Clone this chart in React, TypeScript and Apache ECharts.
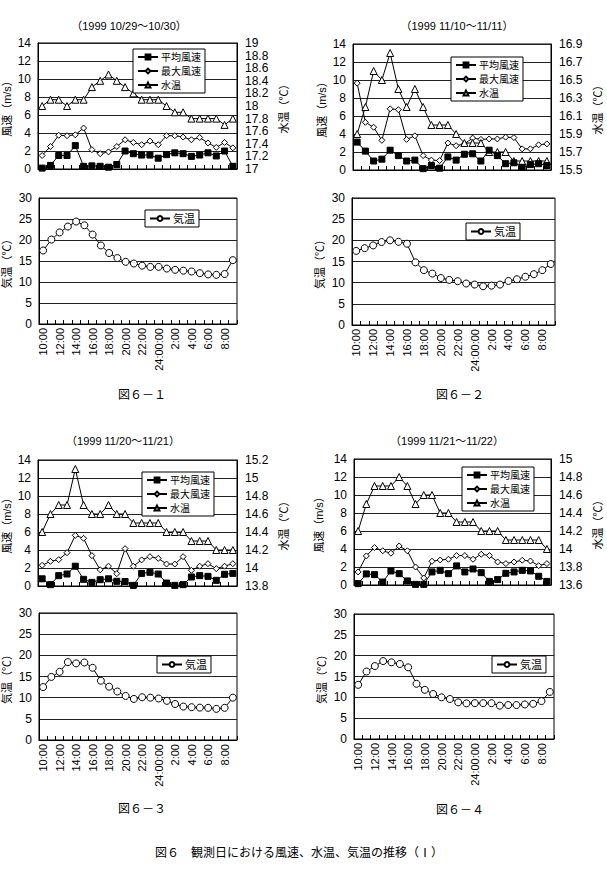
import React, { useEffect, useRef } from "react";
import * as echarts from "echarts";

// ---- categories ----
const times = [
  "10:00", "11:00", "12:00", "13:00", "14:00", "15:00", "16:00", "17:00", "18:00", "19:00",
  "20:00", "21:00", "22:00", "23:00", "24:00:00", "1:00", "2:00", "3:00", "4:00", "5:00",
  "6:00", "7:00", "8:00", "9:00",
];

const titles = ["（1999 10/29～10/30）", "（1999 11/10～11/11）", "（1999 11/20～11/21）", "（1999 11/21～11/22）"];
const figLabels = ["図６－１", "図６－２", "図６－３", "図６－４"];
const caption = "図６　観測日における風速、水温、気温の推移（Ⅰ）";

// ---- panel 1 ----
const avgWind1 = [0.1, 0.4, 1.5, 1.5, 2.6, 0.3, 0.35, 0.3, 0.2, 0.5, 2.0, 1.7, 1.55, 1.55, 1.2, 1.6, 1.8, 1.7, 1.4, 1.55, 1.8, 1.45, 2.0, 0.3];
const maxWind1 = [1.5, 2.5, 3.75, 3.7, 3.8, 4.55, 2.15, 1.7, 1.9, 2.5, 3.25, 2.95, 2.7, 3.1, 2.7, 3.7, 3.7, 3.55, 3.25, 3.5, 2.9, 2.4, 2.95, 2.35];
const water1 = [18.0, 18.1, 18.1, 18.0, 18.1, 18.1, 18.3, 18.4, 18.5, 18.4, 18.3, 18.2, 18.1, 18.1, 18.1, 18.0, 17.9, 17.9, 17.8, 17.8, 17.8, 17.8, 17.7, 17.8];
const air1 = [17.5, 20.1, 21.8, 23.2, 24.4, 23.5, 21.3, 18.7, 16.9, 15.7, 14.8, 14.4, 13.9, 13.6, 13.6, 13.2, 12.9, 12.7, 12.5, 12.1, 11.8, 11.7, 11.9, 15.2];

// ---- panel 2 ----
const avgWind2 = [3.1, 2.1, 1.0, 1.2, 2.2, 1.6, 1.0, 1.1, 0.15, 0.5, 0.2, 1.45, 1.1, 1.75, 1.8, 1.0, 2.2, 1.6, 0.7, 0.8, 0.3, 0.6, 0.7, 0.5];
const maxWind2 = [9.65, 5.3, 4.75, 3.3, 6.8, 6.7, 3.4, 3.8, 1.6, 1.1, 1.05, 3.0, 2.7, 2.9, 3.55, 3.4, 3.45, 3.45, 3.65, 3.6, 2.35, 2.35, 2.8, 2.9];
const water2 = [15.9, 16.2, 16.6, 16.5, 16.8, 16.4, 16.2, 16.4, 16.2, 16.0, 16.0, 16.0, 15.9, 15.8, 15.8, 15.8, 15.7, 15.7, 15.7, 15.6, 15.6, 15.6, 15.6, 15.6];
const air2 = [17.5, 18.15, 18.8, 19.6, 20.0, 19.65, 19.2, 14.8, 12.95, 12.15, 11.1, 10.65, 10.35, 9.8, 9.55, 9.15, 9.3, 9.55, 10.4, 10.8, 11.4, 12.0, 12.95, 14.4];

// ---- panel 3 ----
const avgWind3 = [0.8, 0.15, 1.15, 1.33, 2.2, 0.74, 0.4, 0.7, 0.8, 0.52, 0.5, 0.07, 1.4, 1.52, 1.33, 0.33, 0.07, 0.15, 1.0, 1.15, 1.07, 0.63, 1.3, 1.4];
const maxWind3 = [2.3, 2.74, 2.93, 3.7, 5.63, 5.3, 3.37, 1.8, 2.2, 1.37, 4.15, 2.2, 2.9, 3.26, 3.07, 2.44, 2.44, 3.26, 1.74, 2.2, 2.48, 1.93, 2.2, 2.48];
const water3 = [14.4, 14.6, 14.7, 14.7, 15.1, 14.7, 14.6, 14.6, 14.7, 14.6, 14.6, 14.5, 14.5, 14.5, 14.5, 14.4, 14.4, 14.4, 14.3, 14.3, 14.3, 14.2, 14.2, 14.2];
const air3 = [12.5, 14.9, 16.1, 18.4, 18.1, 18.3, 17.05, 14.0, 12.6, 11.45, 10.4, 9.7, 10.1, 10.0, 9.8, 9.25, 8.5, 7.9, 7.75, 7.65, 7.6, 7.35, 7.6, 10.0];

// ---- panel 4 ----
const avgWind4 = [0.15, 1.23, 1.15, 0.33, 1.56, 1.26, 0.45, 0.07, 0.07, 1.45, 1.63, 1.26, 2.12, 1.45, 1.78, 1.37, 0.4, 0.6, 1.3, 1.45, 1.63, 1.56, 0.97, 0.4];
const maxWind4 = [1.45, 3.23, 4.16, 3.8, 3.53, 4.34, 3.8, 2.0, 0.78, 2.64, 2.78, 2.86, 3.27, 3.27, 2.86, 3.42, 3.27, 2.56, 2.38, 2.56, 2.75, 2.67, 2.15, 2.38];
const water4 = [14.2, 14.5, 14.7, 14.7, 14.7, 14.8, 14.7, 14.5, 14.6, 14.6, 14.4, 14.4, 14.3, 14.3, 14.3, 14.2, 14.2, 14.2, 14.1, 14.1, 14.1, 14.1, 14.1, 14.0];
const air4 = [13.0, 16.2, 17.5, 18.7, 18.4, 18.0, 17.2, 13.25, 11.8, 10.8, 10.0, 9.6, 8.8, 8.55, 8.6, 8.6, 8.6, 8.0, 8.15, 8.15, 8.3, 8.45, 9.1, 11.3];

// water temperature axis ranges
const waterMin = [17, 15.5, 13.8, 13.6];
const waterMax = [19, 16.9, 15.2, 15.0];

const avgWind = [avgWind1, avgWind2, avgWind3, avgWind4];
const maxWind = [maxWind1, maxWind2, maxWind3, maxWind4];
const water = [water1, water2, water3, water4];
const air = [air1, air2, air3, air4];

// ---- layout ----
const topGrids = [
  { left: 36, top: 43, width: 201, height: 126 },
  { left: 353, top: 44, width: 198, height: 126 },
  { left: 36, top: 460, width: 201, height: 126 },
  { left: 354, top: 459, width: 197, height: 126 },
];
const bottomGrids = [
  { left: 36, top: 198, width: 201, height: 126 },
  { left: 352, top: 198, width: 203, height: 127 },
  { left: 36, top: 613, width: 201, height: 127 },
  { left: 354, top: 614, width: 200, height: 125 },
];
const topLegendPos = [
  { left: 133, top: 49 },
  { left: 451, top: 57 },
  { left: 142, top: 472 },
  { left: 462, top: 467 },
];
const bottomLegendPos = [
  { left: 145, top: 210 },
  { left: 466, top: 223 },
  { left: 157, top: 656 },
  { left: 492, top: 656 },
];
const titlePos = [
  { x: 129, y: 26 },
  { x: 457, y: 26 },
  { x: 123, y: 441 },
  { x: 447, y: 441 },
];
const figPos = [
  { x: 142, y: 395 },
  { x: 460, y: 395 },
  { x: 142, y: 809 },
  { x: 460, y: 810 },
];

const FONT = "'Liberation Sans', 'Noto Sans CJK JP', sans-serif";
const fmt = (v: number) => String(parseFloat(v.toFixed(1)));

function buildOption() {
  const grid: any[] = [];
  const xAxis: any[] = [];
  const yAxis: any[] = [];
  const series: any[] = [];
  const legend: any[] = [];
  const graphic: any[] = [];

  const legendBase = {
    orient: "vertical",
    selectedMode: false,
    backgroundColor: "#fff",
    borderColor: "#000",
    borderWidth: 1,
    borderRadius: 0,
    padding: [3, 4, 3, 4],
    itemGap: 4,
    itemWidth: 20,
    itemHeight: 6,
    textStyle: { fontSize: 10, color: "#000", fontFamily: FONT, padding: [0, 0, 0, -2] },
  };

  const lineBase = {
    type: "line",
    color: "#000",
    lineStyle: { color: "#000", width: 1 },
    showAllSymbol: true,
    emphasis: { disabled: true },
  };

  for (let p = 0; p < 4; p++) {
    const gTop = 2 * p;
    const gBot = 2 * p + 1;
    grid.push({ ...topGrids[p], show: true, borderColor: "#000", borderWidth: 1, containLabel: false });
    grid.push({ ...bottomGrids[p], show: true, borderColor: "#000", borderWidth: 1, containLabel: false });

    const xBase = {
      type: "category",
      data: times,
      boundaryGap: true,
      axisLine: { show: true, lineStyle: { color: "#000", width: 1 } },
      axisTick: { show: true, inside: true, length: 4, interval: 0, lineStyle: { color: "#000" } },
      splitLine: { show: false },
    };
    xAxis.push({ ...xBase, gridIndex: gTop, axisLabel: { show: false } });
    xAxis.push({
      ...xBase,
      gridIndex: gBot,
      axisLabel: { show: true, interval: 1, rotate: 90, fontSize: 11, color: "#000", fontFamily: FONT, margin: 4 },
    });

    // top-left wind
    yAxis.push({
      type: "value",
      gridIndex: gTop,
      position: "left",
      min: 0,
      max: 14,
      interval: 2,
      name: "風速（m/s）",
      nameLocation: "middle",
      nameRotate: 90,
      nameGap: p === 3 ? 30 : 26,
      nameTextStyle: { fontSize: 11, color: "#000", fontFamily: FONT },
      axisLine: { show: true, lineStyle: { color: "#000" } },
      axisTick: { show: false },
      axisLabel: { fontSize: 12, color: "#000", fontFamily: FONT, margin: 7 },
      splitLine: { show: true, lineStyle: { color: "#222", width: 1 } },
    });
    // top-right water
    yAxis.push({
      type: "value",
      gridIndex: gTop,
      position: "right",
      min: waterMin[p],
      max: waterMax[p],
      interval: 0.2,
      name: "水温（℃）",
      nameLocation: "middle",
      nameRotate: 90,
      nameGap: 41,
      nameTextStyle: { fontSize: 11, color: "#000", fontFamily: FONT },
      axisLine: { show: true, lineStyle: { color: "#000" } },
      axisTick: { show: false },
      axisLabel: { fontSize: 12, color: "#000", fontFamily: FONT, margin: 8, formatter: fmt },
      splitLine: { show: false },
    });
    // bottom air
    yAxis.push({
      type: "value",
      gridIndex: gBot,
      position: "left",
      min: 0,
      max: 30,
      interval: 5,
      name: "気温（℃）",
      nameLocation: "middle",
      nameRotate: 90,
      nameGap: 27,
      nameTextStyle: { fontSize: 11, color: "#000", fontFamily: FONT },
      axisLine: { show: true, lineStyle: { color: "#000" } },
      axisTick: { show: false },
      axisLabel: { fontSize: 12, color: "#000", fontFamily: FONT, margin: 7 },
      splitLine: { show: true, lineStyle: { color: "#222", width: 1 } },
    });

    const yTopL = 3 * p;
    const yTopR = 3 * p + 1;
    const yBot = 3 * p + 2;

    series.push({
      ...lineBase,
      name: "平均風速",
      xAxisIndex: gTop,
      yAxisIndex: yTopL,
      data: avgWind[p],
      symbol: "rect",
      symbolSize: 6,
      itemStyle: { color: "#000", borderColor: "#000", borderWidth: 1 },
      z: 4,
    });
    series.push({
      ...lineBase,
      name: "最大風速",
      xAxisIndex: gTop,
      yAxisIndex: yTopL,
      data: maxWind[p],
      symbol: "diamond",
      symbolSize: 6,
      itemStyle: { color: "#fff", borderColor: "#000", borderWidth: 1 },
      z: 3,
    });
    series.push({
      ...lineBase,
      name: "水温",
      xAxisIndex: gTop,
      yAxisIndex: yTopR,
      data: water[p],
      symbol: "triangle",
      symbolSize: 7,
      itemStyle: { color: "#fff", borderColor: "#000", borderWidth: 1 },
      z: 3,
    });
    series.push({
      ...lineBase,
      name: "気温",
      xAxisIndex: gBot,
      yAxisIndex: yBot,
      data: air[p],
      symbol: "circle",
      symbolSize: 7,
      itemStyle: { color: "#fff", borderColor: "#000", borderWidth: 1 },
      z: 3,
    });

    legend.push({ ...legendBase, ...topLegendPos[p], data: ["平均風速", "最大風速", "水温"] });
    legend.push({ ...legendBase, ...bottomLegendPos[p], data: ["気温"], textStyle: { ...legendBase.textStyle, fontSize: 11 } });

    graphic.push({
      type: "text",
      x: titlePos[p].x,
      y: titlePos[p].y,
      style: { text: titles[p], fontSize: 11, fill: "#000", fontFamily: FONT, textAlign: "center", textVerticalAlign: "middle" },
    });
    graphic.push({
      type: "text",
      x: figPos[p].x,
      y: figPos[p].y,
      style: { text: figLabels[p], fontSize: 12, fill: "#000", fontFamily: FONT, textAlign: "center", textVerticalAlign: "middle" },
    });
  }

  graphic.push({
    type: "text",
    x: 299,
    y: 853,
    style: { text: caption, fontSize: 12, fill: "#000", fontFamily: FONT, textAlign: "center", textVerticalAlign: "middle" },
  });

  return {
    animation: false,
    backgroundColor: "#fff",
    textStyle: { fontFamily: FONT },
    grid,
    xAxis,
    yAxis,
    series,
    legend,
    graphic,
  };
}

export default function App() {
  const ref = useRef<HTMLDivElement>(null);
  useEffect(() => {
    if (!ref.current) return;
    const chart = echarts.init(ref.current, undefined, { renderer: "svg" });
    chart.setOption(buildOption() as any);
    return () => chart.dispose();
  }, []);
  return (
    <div
      ref={ref}
      style={{ position: "absolute", left: 0, top: 0, width: 607, height: 886, background: "#fff" }}
    />
  );
}
